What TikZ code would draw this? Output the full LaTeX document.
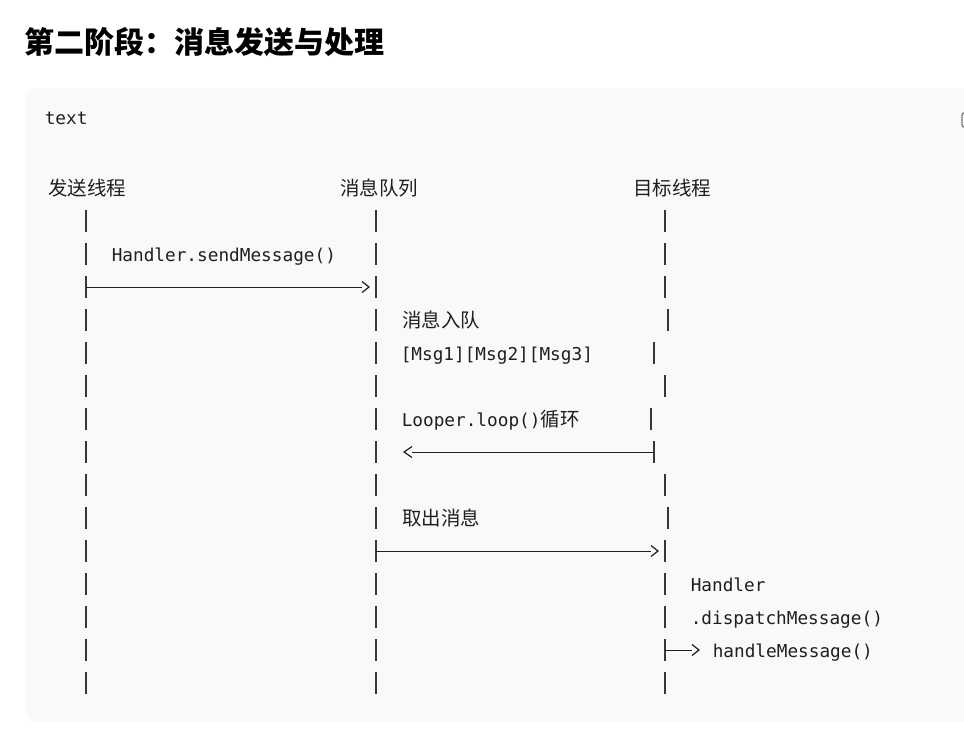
\documentclass[tikz,border=0pt]{standalone}
\usepackage{fontspec}
\setmonofont{DejaVu Sans Mono}
\newfontfamily\cjk{Noto Sans CJK SC}
\newcommand\zhf{\cjk\fontsize{14.6}{17}\selectfont}
\definecolor{ink}{RGB}{31,31,31}
\definecolor{barc}{RGB}{55,55,55}
\definecolor{codebg}{RGB}{248,249,250}
\definecolor{iconc}{RGB}{120,120,120}
\tikzset{
  rchev/.pic={\draw[draw=ink, line width=0.9pt] (0,-5.5) -- (7,0) -- (0,5.5);},
  lchev/.pic={\draw[draw=ink, line width=0.9pt] (0,-5.5) -- (-8,0) -- (0,5.5);}
}
\begin{document}
\begin{tikzpicture}[x=0.75pt,y=-0.75pt,
  mono/.style={font=\ttfamily\fontsize{13.3}{16}\selectfont, text=ink, inner sep=0pt, anchor=base west},
  zh/.style={font=\zhf, text=ink, inner sep=0pt, anchor=base west},
  bar/.style={draw=barc, line width=1.3pt},
  conn/.style={draw=ink, line width=0.75pt}]
\useasboundingbox[fill=white] (0,0) rectangle (964,744);
% code block
\fill[codebg, rounded corners=9pt] (25,88) rectangle (1000,722);
\draw[iconc, line width=1pt, rounded corners=1.5pt] (962,113) rectangle (974,127);
% title
\node[font=\cjk\bfseries\fontsize{22.5}{27}\selectfont, text=black, anchor=base west, inner sep=0pt] (title) at (24,53) {第二阶段：消息发送与处理};
\node[mono] (lang) at (44.5,124) {text};
% headers
\node[zh] (hsend) at (48,195) {发送线程};
\node[zh] (hqueue) at (340,195) {消息队列};
\node[zh] (htarget) at (633,195) {目标线程};
% lifeline bars
\foreach \y in {221,254,...,683} {
  \draw[bar] (86,\y-11) -- (86,\y+11);
  \draw[bar] (376,\y-11) -- (376,\y+11);
}
\foreach \x/\y in {665/221,665/254,665/287,668/320,654/353,665/386,651/419,654/452,665/485,668/518,665/551,665/584,665/617,665/650,665/683} {
  \draw[bar] (\x,\y-11) -- (\x,\y+11);
}
% texts
\node[mono] (send) at (111.5,261) {Handler.sendMessage()};
\node[zh] (enq) at (402,327.5) {消息入队};
\node[mono] (msgs) at (400.5,360) {[Msg1][Msg2][Msg3]};
\node[mono] (loop) at (401.5,426) {Looper.loop(){\zhf 循环}};
\node[zh] (take) at (402,525.5) {取出消息};
\node[mono] (hd1) at (690.5,591) {Handler};
\node[mono] (hd2) at (690.5,624) {.dispatchMessage()};
\node[mono] (hm) at (712.5,657) {handleMessage()};
% arrows
\coordinate (a1s) at (86,287);  \coordinate (a1e) at (362,287);
\draw[conn] (a1s) -- (a1e); \pic at (a1e) {rchev};
\coordinate (a2s) at (654,452); \coordinate (a2e) at (412,452);
\draw[conn] (a2s) -- (a2e); \pic at (a2e) {lchev};
\coordinate (a3s) at (376,551); \coordinate (a3e) at (651,551);
\draw[conn] (a3s) -- (a3e); \pic at (a3e) {rchev};
\coordinate (a4s) at (665,650); \coordinate (a4e) at (692,650);
\draw[conn] (a4s) -- (a4e); \pic at (a4e) {rchev};
\end{tikzpicture}
\end{document}
